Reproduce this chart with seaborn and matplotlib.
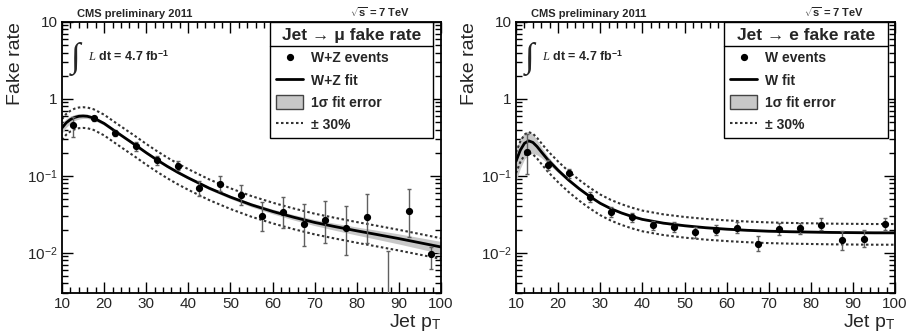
import numpy as np
import matplotlib
matplotlib.use("Agg")
import matplotlib.pyplot as plt
import seaborn as sns
from matplotlib.lines import Line2D
from matplotlib.patches import Patch
from matplotlib.ticker import FixedLocator, LogLocator, FuncFormatter, NullFormatter


# bin centres of the measured fake rates (Jet pT)
pt_bins = [12.5, 17.5, 22.5, 27.5, 32.5, 37.5, 42.5, 47.5, 52.5,
           57.5, 62.5, 67.5, 72.5, 77.5, 82.5, 87.5, 92.5, 97.5]

# muon panel: W+Z events (the 87.5 bin is empty -> below the axis)
mu_rate = [0.46, 0.56, 0.365, 0.245, 0.16, 0.135, 0.070, 0.079, 0.057,
           0.030, 0.034, 0.024, 0.0266, 0.0207, 0.0296, 0.0001, 0.0345, 0.0097]
mu_low = [0.32, 0.52, 0.33, 0.21, 0.14, 0.12, 0.055, 0.063, 0.042,
          0.019, 0.021, 0.0123, 0.0136, 0.0094, 0.0135, 0.0001, 0.016, 0.0062]
mu_high = [0.59, 0.60, 0.40, 0.275, 0.18, 0.155, 0.087, 0.10, 0.075,
           0.046, 0.053, 0.043, 0.047, 0.041, 0.058, 0.0104, 0.067, 0.012]

# electron panel: W events
el_rate = [0.207, 0.139, 0.108, 0.053, 0.034, 0.0288, 0.0229, 0.0216, 0.0186,
           0.0196, 0.0213, 0.0132, 0.0203, 0.0207, 0.0233, 0.0145, 0.0152, 0.0237]
el_low = [0.105, 0.118, 0.094, 0.046, 0.029, 0.025, 0.020, 0.0185, 0.0158,
          0.0168, 0.0182, 0.0105, 0.0170, 0.0175, 0.0195, 0.0110, 0.0118, 0.0200]
el_high = [0.35, 0.162, 0.124, 0.061, 0.039, 0.033, 0.026, 0.025, 0.0218,
           0.0228, 0.0250, 0.0165, 0.0245, 0.0245, 0.0285, 0.0190, 0.0198, 0.0280]

# fit curves
fit_x = [10, 11, 12, 13, 14, 15, 16, 17.5, 20, 22.5, 25, 27.5, 30, 32.5, 35,
         37.5, 40, 45, 50, 55, 60, 65, 70, 75, 80, 85, 90, 95, 100]
mu_fit = [0.42, 0.49, 0.54, 0.575, 0.595, 0.60, 0.595, 0.565, 0.48, 0.385, 0.31,
          0.25, 0.20, 0.162, 0.133, 0.111, 0.094, 0.069, 0.053, 0.042, 0.0345,
          0.029, 0.0248, 0.0218, 0.0193, 0.0172, 0.0153, 0.0135, 0.0119]
mu_fit_err = [0.15, 0.13, 0.11, 0.09, 0.08, 0.07, 0.065, 0.06, 0.05, 0.045, 0.04,
              0.04, 0.04, 0.04, 0.04, 0.04, 0.04, 0.045, 0.05, 0.06, 0.07,
              0.08, 0.09, 0.105, 0.12, 0.135, 0.15, 0.165, 0.18]
el_fit = [0.155, 0.215, 0.265, 0.285, 0.272, 0.24, 0.205, 0.163, 0.118, 0.088,
          0.068, 0.054, 0.044, 0.0375, 0.033, 0.0297, 0.0272, 0.0243, 0.0225,
          0.0212, 0.0203, 0.0196, 0.0191, 0.0188, 0.0186, 0.0184, 0.0183,
          0.0182, 0.0182]
el_fit_err = [0.45, 0.42, 0.38, 0.34, 0.28, 0.22, 0.16, 0.11, 0.07, 0.05, 0.04,
              0.035, 0.035, 0.03, 0.03, 0.03, 0.03, 0.03, 0.03, 0.03, 0.03,
              0.03, 0.03, 0.03, 0.03, 0.03, 0.03, 0.03, 0.03]
syst = 0.30  # +-30% band

x_ticks = [10, 20, 30, 40, 50, 60, 70, 80, 90, 100]

sns.set_style("ticks")
plt.rcParams['font.family'] = ['Liberation Sans', 'DejaVu Sans']
plt.rcParams['mathtext.fontset'] = 'custom'
plt.rcParams['mathtext.rm'] = 'Liberation Sans'
plt.rcParams['mathtext.sf'] = 'Liberation Sans'
plt.rcParams['mathtext.bf'] = 'Liberation Sans:bold'
plt.rcParams['mathtext.it'] = 'Liberation Serif:italic'


def log_label(v, pos):
    e = int(round(np.log10(v)))
    if e == 0:
        return "1"
    if e == 1:
        return "10"
    return r"$10^{%d}$" % e


def draw_panel(ax, rate, low, high, fit, fit_err, header, sample):
    rate = np.array(rate)
    fit = np.array(fit)
    rel = np.array(fit_err)

    ax.fill_between(fit_x, fit * (1 - rel), fit * (1 + rel),
                    color='#c8c8c8', lw=0, zorder=1)
    for scale in (1 + syst, 1 - syst):
        sns.lineplot(x=fit_x, y=fit * scale, ax=ax, color='#333333', lw=1.5,
                     linestyle=(0, (1.2, 1.2)), zorder=2)
    sns.lineplot(x=fit_x, y=fit, ax=ax, color='black', lw=2, zorder=3)

    yerr = [rate - np.array(low), np.array(high) - rate]
    ax.errorbar(pt_bins, rate, yerr=yerr, fmt='o', color='black', ms=4.2,
                ecolor='#606060', elinewidth=1, capsize=1.5, zorder=4)

    ax.set_yscale('log')
    ax.set_xlim(10, 100)
    ax.set_ylim(0.003, 10)
    ax.xaxis.set_major_locator(FixedLocator(x_ticks))
    ax.xaxis.set_minor_locator(FixedLocator(np.arange(10, 101, 2)))
    ax.yaxis.set_major_locator(LogLocator(base=10, numticks=10))
    ax.yaxis.set_minor_locator(LogLocator(base=10, subs=np.arange(2, 10), numticks=20))
    ax.yaxis.set_major_formatter(FuncFormatter(log_label))
    ax.yaxis.set_minor_formatter(NullFormatter())
    ax.tick_params(which='both', direction='in', top=True, right=True,
                   labelsize=11, width=1, color='black')
    ax.tick_params(which='major', length=8, pad=3)
    ax.tick_params(which='minor', length=4)
    for sp in ax.spines.values():
        sp.set_linewidth(1.3)
        sp.set_color('black')

    ax.set_ylabel("Fake rate", fontsize=14, loc='top')
    ax.yaxis.set_label_coords(-0.10, 1.0)
    ax.set_xlabel(r"Jet p$_\mathrm{T}$", fontsize=14, loc='right')
    ax.xaxis.set_label_coords(1.0, -0.07)

    ax.text(0.04, 1.012, "CMS preliminary 2011", transform=ax.transAxes,
            fontsize=8, fontweight='bold', va='bottom', ha='left')
    ax.text(0.918, 1.012, r"$\mathbf{\sqrt{s}}$ = 7 TeV", transform=ax.transAxes,
            fontsize=8, fontweight='bold', va='bottom', ha='right')
    ax.text(0.024, 0.862, "\u222b", transform=ax.transAxes, fontsize=25,
            va='center', ha='left', family=['Liberation Serif', 'DejaVu Serif'])
    ax.text(0.068, 0.872, r"$\mathit{L}$ dt = 4.7 fb$^{\mathbf{-1}}$",
            transform=ax.transAxes, fontsize=9, fontweight='bold',
            va='center', ha='left')

    handles = [
        Line2D([], [], marker='o', color='black', ms=4.2, lw=0),
        Line2D([], [], color='black', lw=2),
        Patch(facecolor='#c8c8c8', edgecolor='#444444', lw=1),
        Line2D([], [], color='#333333', lw=1.5, linestyle=(0, (1.2, 1.2))),
    ]
    labels = [f"{sample} events", f"{sample} fit", "1\u03c3 fit error", "\u00b1 30%"]
    leg = ax.legend(handles, labels, title=header, loc='upper left',
                    bbox_to_anchor=(0.549, 0, 0.431, 1.0), mode='expand',
                    borderaxespad=0, fancybox=False, framealpha=1,
                    edgecolor='black', handlelength=1.9, handleheight=1.15,
                    handletextpad=0.6, labelspacing=0.55, borderpad=0.45,
                    prop={'weight': 'bold', 'size': 10},
                    title_fontproperties={'weight': 'bold', 'size': 12.5})
    leg.get_frame().set_linewidth(1)
    leg.set_zorder(10)
    return leg


fig = plt.figure(figsize=(9.09, 3.33), dpi=100)
ax1 = fig.add_axes([0.0682, 0.12, 0.417, 0.814])
ax2 = fig.add_axes([0.5677, 0.12, 0.417, 0.814])

leg1 = draw_panel(ax1, mu_rate, mu_low, mu_high, mu_fit, mu_fit_err,
                  "Jet \u2192 \u03bc fake rate", "W+Z")
leg2 = draw_panel(ax2, el_rate, el_low, el_high, el_fit, el_fit_err,
                  "Jet \u2192 e fake rate", "W")

# separator line under the legend header, like the ROOT legend
fig.canvas.draw()
inv = fig.transFigure.inverted()
for leg in (leg1, leg2):
    tb = leg.get_title().get_window_extent()
    fb = leg.get_frame().get_window_extent()
    y = tb.y0 - 3
    (x0, y0), (x1, _) = inv.transform([(fb.x0, y), (fb.x1, y)])
    fig.add_artist(Line2D([x0, x1], [y0, y0], color='black', lw=1, zorder=11))

fig.savefig("out.png", dpi=100)
